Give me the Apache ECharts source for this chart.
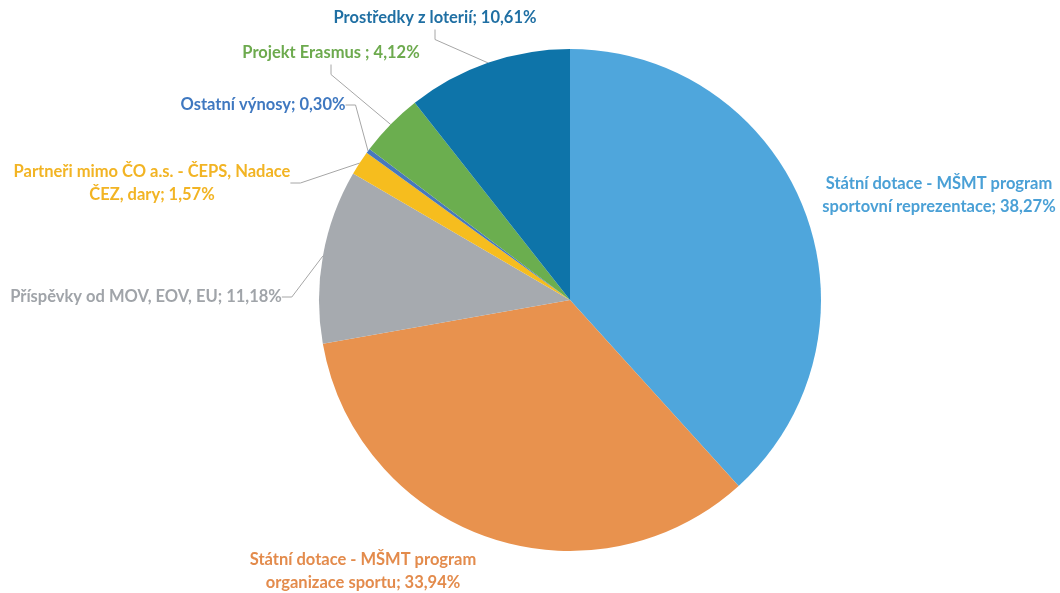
<!DOCTYPE html>
<html>
<head>
<meta charset="utf-8">
<script src="https://cdn.jsdelivr.net/npm/echarts@6/dist/echarts.min.js"></script>
<style>html,body{margin:0;padding:0;background:#fff}#c{width:1060px;height:593px}</style>
</head>
<body>
<div id="c"></div>
<script>
var categories = [
  'Státní dotace - MŠMT program\nsportovní reprezentace',
  'Státní dotace - MŠMT program\norganizace sportu',
  'Příspěvky od MOV, EOV, EU',
  'Partneři mimo ČO a.s. - ČEPS, Nadace\nČEZ, dary',
  'Ostatní výnosy',
  'Projekt Erasmus ',
  'Prostředky z loterií'
];
var values = [38.27, 33.94, 11.18, 1.57, 0.30, 4.12, 10.61];
var sliceColors = ['#4FA6DC', '#E8924E', '#A6AAAF', '#F6BD1E', '#4778BD', '#6BAE4F', '#0E74A9'];
var labelColors = ['#4AA0D6', '#E38B4C', '#A0A4A9', '#F2B424', '#3F78C0', '#6DAA4E', '#1F6FA3'];

var labelPos = [
  {x: 939, y: 195},
  {x: 363, y: 571},
  {x: 146, y: 297},
  {x: 152, y: 183},
  {x: 263, y: 105},
  {x: 331, y: 53},
  {x: 435, y: 18}
];

var data = categories.map(function (c, i) {
  return {
    name: c,
    value: values[i],
    itemStyle: {color: sliceColors[i]},
    label: {color: labelColors[i]},
    labelLine: {show: i >= 2}
  };
});

var chart = echarts.init(document.getElementById('c'));
chart.setOption({
  animation: false,
  series: [{
    type: 'pie',
    center: [570, 300],
    radius: 251,
    startAngle: 90,
    clockwise: true,
    data: data,
    itemStyle: {borderWidth: 0},
    label: {
      fontFamily: 'Lato',
      fontWeight: 'bold',
      fontSize: 16.5,
      lineHeight: 23,
      align: 'center',
      overflow: 'none',
      formatter: function (p) {
        return p.name + '; ' + p.value.toFixed(2).replace('.', ',') + '%';
      }
    },
    labelLine: {
      lineStyle: {color: '#A6A6A6', width: 1},
      length: 10,
      length2: 10
    },
    labelLayout: function (p) {
      var lp = labelPos[p.dataIndex];
      return {x: lp.x, y: lp.y, align: 'center', verticalAlign: 'middle'};
    }
  }]
});
</script>
</body>
</html>
